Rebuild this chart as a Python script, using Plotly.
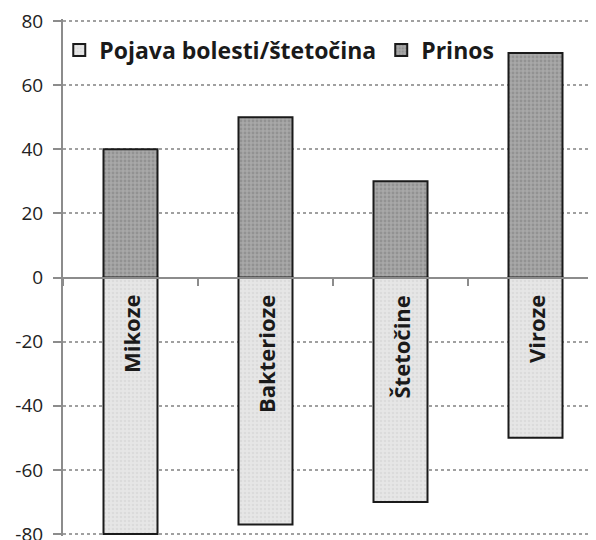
import plotly.graph_objects as go

categories = ["Mikoze", "Bakterioze", "Štetočine", "Viroze"]
pojava = [-80, -77, -70, -50]
prinos = [40, 50, 30, 70]
y_ticks = [-80, -60, -40, -20, 0, 20, 40, 60, 80]
y_tick_text = ["-80", "-60", "-40", "-20", "0", "20", "40", "60", "80"]

FONT = "'Open Sans', Lato, sans-serif"

fig = go.Figure()
fig.add_trace(go.Bar(
    x=categories, y=pojava, name="Pojava bolesti/štetočina",
    width=0.4,
    marker=dict(
        color="#e4e4e4",
        line=dict(color="#1a1a1a", width=2),
        pattern=dict(shape=".", bgcolor="#e6e6e6", fgcolor="#cfcfcf", size=4, solidity=0.35),
    ),
))
fig.add_trace(go.Bar(
    x=categories, y=prinos, name="Prinos",
    width=0.4,
    marker=dict(
        color="#a2a2a2",
        line=dict(color="#1a1a1a", width=2),
        pattern=dict(shape=".", bgcolor="#a8a8a8", fgcolor="#7c7c7c", size=4, solidity=0.4),
    ),
))

# category names written inside the lower bars
for cat in categories:
    fig.add_annotation(
        x=cat, y=0, text=f"<b>{cat}</b>", textangle=-90,
        xanchor="center", yanchor="top", yshift=-16,
        showarrow=False, font=dict(family=FONT, size=22, color="#1a1a1a"),
    )

# the page body adds an 8px offset, so margins are shifted to compensate;
# the y range is padded a little so plotly keeps the gridlines at +/-80
fig.update_layout(
    width=596, height=540,
    margin=dict(l=55, r=1, t=11, b=12, autoexpand=False),
    barmode="relative",
    paper_bgcolor="white", plot_bgcolor="white",
    font=dict(family=FONT, size=19, color="#222"),
    showlegend=True,
    legend=dict(
        orientation="h", xref="container", x=0.086, y=0.94, xanchor="left", yanchor="middle",
        font=dict(family=FONT, size=23, color="#1a1a1a", weight="bold"),
        bgcolor="rgba(0,0,0,0)", traceorder="normal", itemwidth=30,
    ),
)
fig.update_yaxes(
    range=[-80.6, 80.6], tickvals=y_ticks, ticktext=y_tick_text,
    automargin=False, ticklabeloverflow="allow",
    showgrid=True, gridcolor="#a0a0a0", griddash="dot", gridwidth=2,
    zeroline=False,
    showline=True, linecolor="#8c8c8c", linewidth=2,
    ticks="outside", ticklen=8, tickwidth=2, tickcolor="#8c8c8c",
    ticklabelstandoff=6,
)
fig.update_xaxes(
    range=[-0.5, 3.5],
    anchor="free", position=0.5, automargin=False,
    showticklabels=False, showgrid=False, zeroline=False,
    showline=True, linecolor="#8c8c8c", linewidth=2,
    ticks="outside", tickson="boundaries", ticklen=7, tickwidth=2, tickcolor="#8c8c8c",
)

fig.write_html("out.html")
